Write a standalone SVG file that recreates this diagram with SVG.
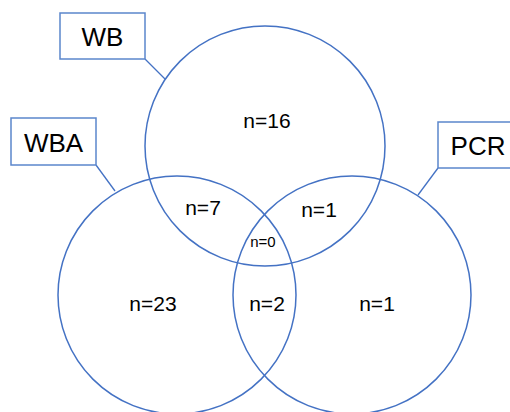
<svg xmlns="http://www.w3.org/2000/svg" width="510" height="412" viewBox="0 0 510 412">
<style>
.c{fill:none;stroke:#4472C4;stroke-width:1.5}
.b{fill:#fff;stroke:#5B86CC;stroke-width:1.5}
.l{stroke:#4472C4;stroke-width:1.3;fill:none}
.t{font-family:"Liberation Sans",Arial,sans-serif;fill:#000;text-anchor:middle}
.n{font-size:21px}
.h{font-size:26px}
</style>
<rect width="510" height="412" fill="#fff"/>
<g id="circles">
<circle id="wb-circle" class="c" cx="265" cy="146" r="120"/>
<circle id="wba-circle" class="c" cx="177" cy="295" r="119"/>
<circle id="pcr-circle" class="c" cx="352" cy="295" r="119"/>
</g>
<g id="connectors">
<line class="l" x1="145" y1="59" x2="165" y2="79"/>
<line class="l" x1="96" y1="165" x2="115" y2="191"/>
<line class="l" x1="438" y1="168" x2="418" y2="195"/>
</g>
<g id="WB"><rect class="b" x="60" y="13" width="85" height="46"/><text class="t h" x="102.5" y="46">WB</text></g>
<g id="WBA"><rect class="b" x="11" y="118" width="85" height="47"/><text class="t h" x="53.5" y="152">WBA</text></g>
<g id="PCR"><rect class="b" x="438" y="122" width="80" height="46"/><text class="t h" x="478" y="155">PCR</text></g>
<g id="counts">
<text class="t n" x="267" y="128">n=16</text>
<text class="t n" x="203" y="215">n=7</text>
<text class="t n" x="319" y="217">n=1</text>
<text class="t" style="font-size:15px" x="263" y="247">n=0</text>
<text class="t n" x="153" y="311">n=23</text>
<text class="t n" x="267" y="311">n=2</text>
<text class="t n" x="377" y="311">n=1</text>
</g>
</svg>
